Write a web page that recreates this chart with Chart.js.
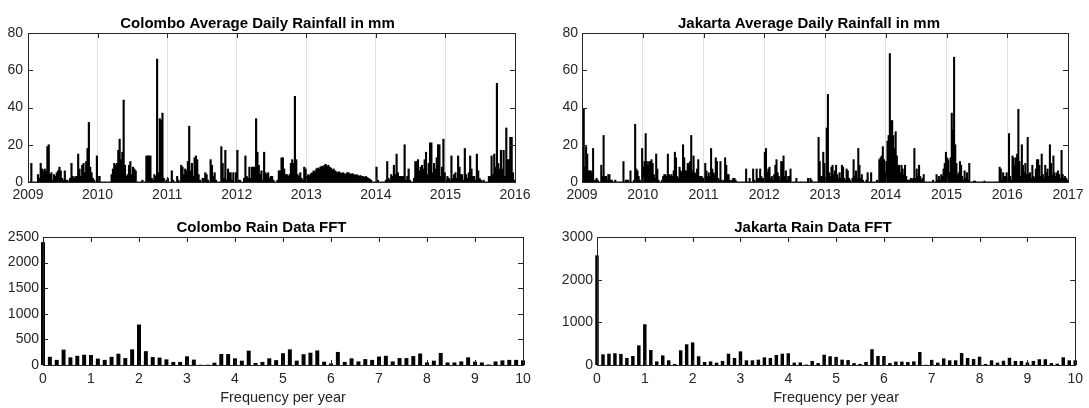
<!DOCTYPE html>
<html>
<head>
<meta charset="utf-8">
<title>Colombo / Jakarta rainfall</title>
<script src="https://cdn.jsdelivr.net/npm/chart.js@4.4.1/dist/chart.umd.min.js"></script>
<style>
  body { margin: 0; background: #fff; }
  .panel { position: absolute; }
</style>
</head>
<body>
<div class="panel" style="left:0;top:0"><canvas id="colombo-rain" width="550" height="204"></canvas></div>
<div class="panel" style="left:550px;top:0"><canvas id="jakarta-rain" width="539" height="204"></canvas></div>
<div class="panel" style="left:0;top:204px"><canvas id="colombo-fft" width="550" height="204"></canvas></div>
<div class="panel" style="left:550px;top:204px"><canvas id="jakarta-fft" width="539" height="204"></canvas></div>
<script>
// weekly rainfall (mm), one row of 52 weeks per year
const colombo2009 = [0,0,10,0,0,0,0,4,2,10, 7,6,7,6,19,20,4,5,1,4, 3,5,6,8,6,2,1,6,1,1, 0,2,10,3,2,3,3,15,7,3, 9,10,5,11,18,32,8,5,2,1, 0,14];
const colombo2010 = [3,3,0,0,0,0,0,0,0,0, 4,7,10,9,10,17,23,12,16,44, 9,3,4,9,11,4,8,7,6,0, 0,0,0,1,0,0,14,14,14,14, 2,1,4,3,66,5,34,33,37,2, 0,1];
const colombo2011 = [2,0,0,6,1,0,0,3,1,0, 9,8,4,7,6,11,30,6,10,3, 13,14,12,4,1,0,2,2,5,4, 1,0,12,9,3,5,1,0,0,0, 19,10,2,17,1,7,5,5,1,5, 0,5];
const colombo2012 = [17,1,1,0,0,2,14,3,2,8, 2,8,8,8,34,16,9,4,6,1, 16,5,4,5,2,3,3,1,0,0, 1,6,6,13,13,7,4,4,3,4, 10,12,10,46,12,4,3,5,2,1, 8,7];
const colombo2013 = [3,4,3.5,4.5,5,6,5.5,7,7.5,7, 8,8.5,8,9,9.5,8.5,9,8,7.5,6.5, 7,6,5.5,5,5.5,5,4.5,5,4.5,4, 5,5,4.5,4,4.5,4,3.5,4,3.5,3, 3.5,3,3,2.5,3,2.5,2,1.5,1,0, 0,0];
const colombo2014 = [8,1,0,0,0,0,0,1,11,2, 1,4,3,9,4,15,5,3,3,3, 3,20,1,3,7,1,0,0,2,11, 11,12,6,8,9,7,12,16,4,10, 21,21,5,10,7,13,20,20,3,8, 23,5];
const colombo2015 = [1,3,2,1,14,2,4,5,2,14, 8,4,4,1,18,4,2,5,14,7, 3,3,1,15,6,2,1,0,1,0, 0,0,3,3,14,4,15,8,53,10, 7,17,7,17,3,29,12,12,24,24, 5,1];

const jakarta2009 = [20,39,8,19,15,6,6,6,5,18, 1,1,2,1,0,0,9,3,25,3, 3,1,4,4,1,1,0,0,1,0, 0,0,0,0,0,11,0,1,1,1, 0,6,0,0,1,31,7,6,3,1, 0,18];
const jakarta2010 = [8,11,26,11,9,11,11,12,10,4, 2,15,7,1,0,0,1,3,4,4, 3,15,4,3,4,3,6,16,13,3, 2,8,6,5,20,13,6,6,10,10, 11,25,6,14,5,4,7,12,3,3, 3,2];
const jakarta2011 = [2,10,6,3,5,3,18,7,5,4, 13,11,2,1,11,1,0,1,13,9, 4,4,1,0,1,2,2,1,0,0, 0,0,0,0,0,0,7,0,0,2, 0,0,7,1,0,7,2,2,7,3, 2,2];
const jakarta2012 = [16,18,5,7,8,2,3,1,4,9, 12,5,3,1,11,11,14,3,6,1, 3,3,7,0,0,0,0,2,0,0, 0,0,0,0,0,0,0,2,0,2, 1,0,0,0,0,0,24,11,3,3, 16,10];
const jakarta2013 = [2,29,47,5,3,8,9,4,6,9, 4,2,5,2,9,8,2,1,7,6, 2,1,0,2,12,3,6,2,18,9, 2,4,1,0,0,1,5,0,0,5, 0,0,0,0,1,0,12,13,14,19, 12,5];
const jakarta2014 = [11,22,25,69,33,33,25,18,27,14, 9,9,5,9,7,4,9,3,1,1, 1,2,1,2,18,2,7,3,9,3, 1,2,4,0,0,0,0,0,0,0, 1,0,0,4,1,3,1,4,3,7, 10,16];
const jakarta2015 = [13,12,5,13,37,28,67,20,10,4, 5,11,9,3,1,6,2,5,1,10, 0,0,0,0.5,0.5,0,0,0,0,0, 0,0,0.5,0,0,0,0,0,0,0, 0,0,0,0,0,8,7,1,5,3, 3,5];
const jakarta2016 = [2,26,3,1,14,13,9,13,15,39, 11,3,20,9,5,10,4,24,4,5, 2,9,3,2,7,12,12,9,3,15, 4,2,9,5,7,3,20,10,4,14, 5,3,5,6,4,2,17,4,2,3, 2,1];

// FFT magnitude, bins of 1/7 per year (Colombo) and 1/8 per year (Jakarta)
const colomboFFT = [2400,160,100,300,150,180,200,195,125,100, 160,220,135,305,790,270,155,145,110,60,
  60,170,105,5,5,45,215,215,130,85, 280,40,60,130,95,230,305,85,210,240,
  285,65,30,255,60,130,70,115,100,165, 180,70,135,135,175,225,50,85,235,50,
  50,70,150,65,50,10,70,90,100,100, 90];
const jakartaFFT = [2570,250,265,275,260,165,210,460,955,350, 85,225,110,25,345,485,530,205,70,85,
  55,95,265,165,320,110,110,125,180,165, 235,265,275,55,60,10,95,45,240,205,
  190,125,115,45,25,70,370,210,210,45, 80,80,70,85,305,5,120,55,155,110,
  110,280,165,140,195,25,110,55,100,170, 95,95,60,95,135,135,45,30,180,110,
  110];

const colomboYears = [colombo2009, colombo2010, colombo2011, colombo2012, colombo2013, colombo2014, colombo2015];
const jakartaYears = [jakarta2009, jakarta2010, jakarta2011, jakarta2012, jakarta2013, jakarta2014, jakarta2015, jakarta2016];

const ink = '#262626';
Chart.defaults.font.family = '"Liberation Sans", Arial, sans-serif';
Chart.defaults.color = ink;

function weekly(years, firstYear) {
  const pts = [];
  years.forEach((vals, i) => {
    vals.forEach((v, w) => pts.push({ x: firstYear + i + (w + 0.5) / 52, y: v }));
  });
  return pts;
}

// matlab style box with ticks pointing inwards
const boxTicks = {
  id: 'boxTicks',
  afterDatasetsDraw(chart) {
    const { ctx, chartArea: a, scales: { x, y } } = chart;
    const len = 5;
    ctx.save();
    ctx.strokeStyle = ink;
    ctx.lineWidth = 1;
    ctx.beginPath();
    x.ticks.forEach(t => {
      const px = Math.round(x.getPixelForValue(t.value)) + 0.5;
      ctx.moveTo(px, a.bottom); ctx.lineTo(px, a.bottom - len);
      ctx.moveTo(px, a.top); ctx.lineTo(px, a.top + len);
    });
    y.ticks.forEach(t => {
      const py = Math.round(y.getPixelForValue(t.value)) + 0.5;
      ctx.moveTo(a.left, py); ctx.lineTo(a.left + len, py);
      ctx.moveTo(a.right, py); ctx.lineTo(a.right - len, py);
    });
    ctx.stroke();
    ctx.strokeRect(Math.round(a.left) + 0.5, Math.round(a.top) + 0.5,
      Math.round(a.right - a.left), Math.round(a.bottom - a.top));
    ctx.restore();
  }
};

function makeChart(canvasId, cfg) {
  return new Chart(document.getElementById(canvasId), {
    type: 'bar',
    data: {
      datasets: [{
        data: cfg.points,
        backgroundColor: '#000',
        borderWidth: 0,
        barThickness: cfg.barWidth,
        barPercentage: cfg.barPct,
        categoryPercentage: 1,
        clip: cfg.clip
      }]
    },
    options: {
      responsive: false,
      animation: false,
      layout: { padding: { top: 10, right: cfg.padRight, left: 0, bottom: 0 } },
      plugins: {
        legend: { display: false },
        tooltip: { enabled: false },
        title: {
          display: true,
          text: cfg.title,
          color: '#000',
          font: { size: 15, weight: 'bold' },
          padding: { top: 5, bottom: 0 }
        }
      },
      scales: {
        x: {
          type: 'linear',
          offset: false,
          min: cfg.xMin,
          max: cfg.xMax,
          afterFit: s => { s.height = cfg.xHeight; },
          grid: {
            offset: false,
            display: cfg.xGrid,
            drawTicks: false,
            color: 'rgba(38,38,38,0.15)'
          },
          border: { display: false },
          ticks: {
            stepSize: 1,
            padding: cfg.xPad,
            maxRotation: 0,
            font: { size: 14 },
            callback: v => String(v)
          },
          title: {
            display: !!cfg.xTitle,
            text: cfg.xTitle,
            font: { size: 14.5 },
            padding: { top: 0, bottom: 1 }
          }
        },
        y: {
          min: 0,
          max: cfg.yMax,
          afterFit: s => { s.width = cfg.yWidth; },
          grid: { display: false, drawTicks: false },
          border: { display: false },
          ticks: {
            stepSize: cfg.yStep,
            padding: cfg.yPad,
            font: { size: 14 },
            callback: v => String(v)
          }
        }
      }
    },
    plugins: [boxTicks]
  });
}

makeChart('colombo-rain', {
  title: 'Colombo Average Daily Rainfall in mm',
  points: weekly(colomboYears, 2009),
  xMin: 2009, xMax: 2016, xGrid: true, xHeight: 22, xPad: 5,
  yMax: 80, yStep: 20, yWidth: 28, yPad: 5, padRight: 35, barWidth: 1.5, barPct: 1
});

makeChart('jakarta-rain', {
  title: 'Jakarta Average Daily Rainfall in mm',
  points: weekly(jakartaYears, 2009),
  xMin: 2009, xMax: 2017, xGrid: true, xHeight: 22, xPad: 5,
  yMax: 80, yStep: 20, yWidth: 32, yPad: 4, padRight: 21, barWidth: 1.4, barPct: 1
});

makeChart('colombo-fft', {
  title: 'Colombo Rain Data FFT',
  points: colomboFFT.map((v, k) => ({ x: k / 7, y: v })),
  xMin: 0, xMax: 10, xGrid: false, xHeight: 43, xPad: 6, xTitle: 'Frequency per year',
  yMax: 2500, yStep: 500, yWidth: 43, yPad: 4, padRight: 27, barPct: 0.58, clip: false
});

makeChart('jakarta-fft', {
  title: 'Jakarta Rain Data FFT',
  points: jakartaFFT.map((v, k) => ({ x: k / 8, y: v })),
  xMin: 0, xMax: 10, xGrid: false, xHeight: 43, xPad: 6, xTitle: 'Frequency per year',
  yMax: 3000, yStep: 1000, yWidth: 47, yPad: 4, padRight: 13, barPct: 0.58, clip: false
});
</script>
</body>
</html>
